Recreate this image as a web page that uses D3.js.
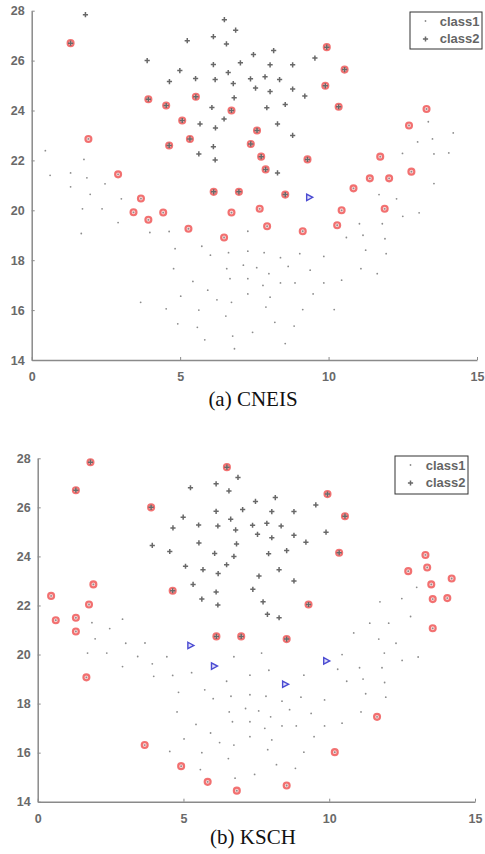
<!DOCTYPE html>
<html><head><meta charset="utf-8">
<script src="https://cdn.jsdelivr.net/npm/d3@7"></script>
<style>body{margin:0;background:#fff} svg{display:block}</style>
</head><body><svg id="c" width="485" height="854"></svg>
<script>
// ---- data ----
const class1 = [
 [0.46,22.39],[0.62,21.40],[1.31,21.50],[1.76,22.04],[1.86,21.30],[2.47,21.06],[1.31,20.94],[1.91,22.86],
 [2.91,21.44],[1.97,20.64],[1.71,20.06],[2.37,20.06],[3.02,20.46],[2.91,19.51],[1.67,19.07],[3.68,20.47],
 [3.43,19.92],[3.93,19.62],[4.43,19.91],[3.98,19.11],[4.63,19.15],[5.28,19.26],
 [4.83,18.46],[4.78,17.66],[5.73,18.56],[6.02,18.20],[5.43,17.15],[5.93,16.80],[5.02,16.56],[6.24,16.41],
 [3.67,16.31],[4.53,16.05],[5.63,16.00],[4.92,15.45],[5.58,15.31],[5.83,14.81],[6.63,18.30],[6.57,17.66],
 [6.68,17.26],[6.73,16.31],[6.54,15.76],[6.77,14.96],[6.83,14.45],[7.13,17.80],[6.73,19.91],[6.48,18.91],
 [7.68,20.06],[7.93,19.36],[9.13,19.16],[10.44,20.00],[10.29,19.40],[11.89,20.06],[10.84,20.88],[11.39,21.28],
 [12.04,21.28],[12.79,21.55],[11.74,22.15],[12.71,23.40],[13.30,24.06],[13.36,23.55],[14.20,23.10],[13.50,22.86],
 [13.00,22.74],[12.49,22.28],[13.55,22.26],[14.05,22.30],[13.55,21.07],
 [11.70,20.63],[12.29,20.46],[12.50,19.76],[13.05,19.90],[11.04,19.46],[11.81,19.46],[11.16,19.00],[10.60,18.91],
 [11.90,18.86],[11.25,18.40],[11.94,18.26],[11.09,17.66],[11.64,17.46],[10.44,17.20],[9.84,17.09],[9.84,18.15],
 [9.03,18.26],[8.38,18.10],[7.83,18.30],[7.28,18.36],[7.28,19.16],[7.58,17.70],[8.64,17.75],[9.38,17.60],
 [7.99,17.46],[7.28,17.26],[7.79,16.99],[8.38,17.09],[8.87,17.09],[7.28,16.65],[8.03,16.52],[9.48,16.65],
 [7.89,16.12],[9.13,16.02],[10.19,16.02],[8.19,15.51],[8.84,15.36],[7.44,15.11],[8.54,14.66]
];
const class2 = [
 [1.81,27.84],[1.31,26.70],[3.89,26.00],[3.93,24.45],[4.53,24.20],[5.07,23.60],[4.63,22.60],[5.33,22.86],
 [5.53,24.55],[6.73,24.00],[4.64,25.16],[4.99,25.60],[5.24,26.80],[5.52,25.28],[6.12,26.96],[6.49,27.64],
 [6.87,27.22],[6.56,26.67],[6.12,25.84],[7.03,25.91],[6.18,25.24],[6.62,25.52],[6.79,25.08],[6.82,24.51],
 [6.07,24.12],[6.48,23.66],[5.67,23.46],[6.19,23.30],[6.12,22.55],[5.63,22.26],[6.18,22.02],
 [7.47,26.24],[8.15,26.40],[8.03,25.83],[8.79,25.83],[9.54,26.10],[9.94,26.54],[10.54,25.64],[9.89,24.99],
 [10.34,24.15],[7.37,25.27],[7.86,25.35],[8.35,25.24],[7.54,24.90],[8.03,24.76],[8.79,24.86],[9.20,24.58],
 [7.92,24.11],[8.54,24.24],[8.28,23.46],[8.79,23.00],[8.28,21.50],[7.59,23.20],[7.38,22.66],[7.73,22.15],
 [7.88,21.64],[9.29,22.04],[6.13,20.74],[6.98,20.74],[8.54,20.63]
];
// highlighted samples (red circles) and blue triangles, panel (a)
const redA = [
 [1.31,26.70],[3.93,24.45],[4.53,24.20],[5.07,23.60],[4.63,22.60],[5.33,22.86],[5.53,24.55],[6.73,24.00],
 [9.94,26.54],[10.54,25.64],[9.89,24.99],[10.34,24.15],[7.59,23.20],[7.38,22.66],[7.73,22.15],[7.88,21.64],
 [9.29,22.04],[6.13,20.74],[6.98,20.74],[8.54,20.63],
 [1.91,22.86],[2.91,21.44],[3.68,20.47],[3.43,19.92],[3.93,19.62],[4.43,19.91],[5.28,19.26],[6.73,19.91],
 [6.48,18.91],[7.68,20.06],[7.93,19.36],[9.13,19.16],[10.44,20.00],[10.29,19.40],[11.89,20.06],[10.84,20.88],
 [11.39,21.28],[12.04,21.28],[12.79,21.55],[11.74,22.15],[12.71,23.40],[13.30,24.06]
];
const triA = [[9.35,20.52]];
// panel (b)
const redB = [
 [1.81,27.84],[1.31,26.70],[3.89,26.00],[4.63,22.60],[6.49,27.64],[9.94,26.54],[10.54,25.64],[10.34,24.15],
 [9.29,22.04],[6.13,20.74],[6.98,20.74],[8.54,20.63],
 [0.46,22.39],[1.91,22.86],[1.76,22.04],[0.62,21.40],[1.31,21.50],[1.31,20.94],[1.67,19.07],[3.67,16.31],
 [4.92,15.45],[5.83,14.81],[6.83,14.45],[8.54,14.66],[10.19,16.02],[11.64,17.46],[13.55,21.07],[13.30,24.06],
 [13.36,23.55],[12.71,23.40],[13.50,22.86],[14.20,23.10],[13.55,22.26],[14.05,22.30]
];
const triB = [[5.24,20.37],[6.05,19.53],[8.49,18.79],[9.90,19.74]];

const xTicks = [0,5,10,15];
const yTicks = [14,16,18,20,22,24,26,28];
const legendLabels = ["class1","class2"];
const captions = ["(a) CNEIS","(b) KSCH"];

// ---- layout ----
const panels = [
 {x0:31.7, x1:477, yT:10.7, yB:360, leg:{x:410,y:12,w:72,h:37}, capY:406, red:redA, tri:triA, cap:captions[0]},
 {x0:37.7, x1:475, yT:458.3, yB:801.7, leg:{x:395,y:456,w:73,h:38}, capY:844, red:redB, tri:triB, cap:captions[1]}
];

const svg = d3.select("#c");
const plusPath = "M-2.6,0H2.6M0,-2.6V2.6";
const triPath = "M-2.6,-3.2L3.4,0L-2.6,3.2Z";

panels.forEach(p => {
  const x = d3.scaleLinear().domain([0,15]).range([p.x0, p.x1]);
  const y = d3.scaleLinear().domain([14,28]).range([p.yB, p.yT]);
  const g = svg.append("g");

  const ax = g.append("g").attr("transform",`translate(0,${p.yB})`)
    .call(d3.axisBottom(x).tickValues(xTicks).tickFormat(d3.format("d")).tickSizeInner(-3).tickSizeOuter(0).tickPadding(12));
  const ay = g.append("g").attr("transform",`translate(${p.x0},0)`)
    .call(d3.axisLeft(y).tickValues(yTicks).tickFormat(d3.format("d")).tickSizeInner(-3).tickSizeOuter(0).tickPadding(7));
  [ax,ay].forEach(a => {
    a.select(".domain").attr("stroke","#8a8a8a").attr("stroke-width",1.5);
    a.selectAll(".tick line").attr("stroke","#8a8a8a").attr("stroke-width",1);
    a.selectAll(".tick text").attr("fill","#505050").attr("font-family","Liberation Sans, Arial, sans-serif")
      .attr("font-size",12.5).attr("font-weight","bold").attr("opacity",0.85);
  });

  // red highlight rings
  g.append("g").selectAll("circle").data(p.red).join("circle")
    .attr("cx",d=>x(d[0])).attr("cy",d=>y(d[1])).attr("r",3)
    .attr("fill","rgba(240,110,110,0.3)").attr("stroke","#f05a5a").attr("stroke-opacity",0.85).attr("stroke-width",2.1);

  // class1 dots
  g.append("g").selectAll("circle").data(class1).join("circle")
    .attr("cx",d=>x(d[0])).attr("cy",d=>y(d[1])).attr("r",0.9).attr("fill","#8c8c8c");

  // class2 plus
  g.append("g").selectAll("path").data(class2).join("path")
    .attr("d",plusPath).attr("transform",d=>`translate(${x(d[0])},${y(d[1])})`)
    .attr("stroke","#686868").attr("stroke-width",1.5).attr("fill","none");

  // blue triangles
  g.append("g").selectAll("path").data(p.tri).join("path")
    .attr("d",triPath).attr("transform",d=>`translate(${x(d[0])},${y(d[1])})`)
    .attr("stroke","#4b4bd2").attr("stroke-width",1.4).attr("fill","rgba(120,120,230,0.25)");

  // legend
  const L = p.leg;
  const lg = g.append("g");
  lg.append("rect").attr("x",L.x).attr("y",L.y).attr("width",L.w).attr("height",L.h)
    .attr("fill","#fff").attr("stroke","#333").attr("stroke-width",1);
  lg.append("circle").attr("cx",L.x+15.5).attr("cy",L.y+9).attr("r",0.9).attr("fill","#8c8c8c");
  lg.append("path").attr("d",plusPath).attr("transform",`translate(${L.x+15.5},${L.y+27})`)
    .attr("stroke","#686868").attr("stroke-width",1.5);
  legendLabels.forEach((t,i) => {
    lg.append("text").attr("x",L.x+L.w-2.5).attr("y",L.y+13.5+i*17.5).attr("text-anchor","end")
      .attr("font-family","Liberation Sans, Arial, sans-serif").attr("font-size",13).attr("font-weight","bold")
      .attr("fill","#4a4a4a").attr("opacity",0.85).text(t);
  });

  // caption
  g.append("text").attr("x",253).attr("y",p.capY).attr("text-anchor","middle")
    .attr("font-family","Liberation Serif, Times New Roman, serif").attr("font-size",21)
    .attr("fill","#111").text(p.cap);
});
</script>
</body></html>
